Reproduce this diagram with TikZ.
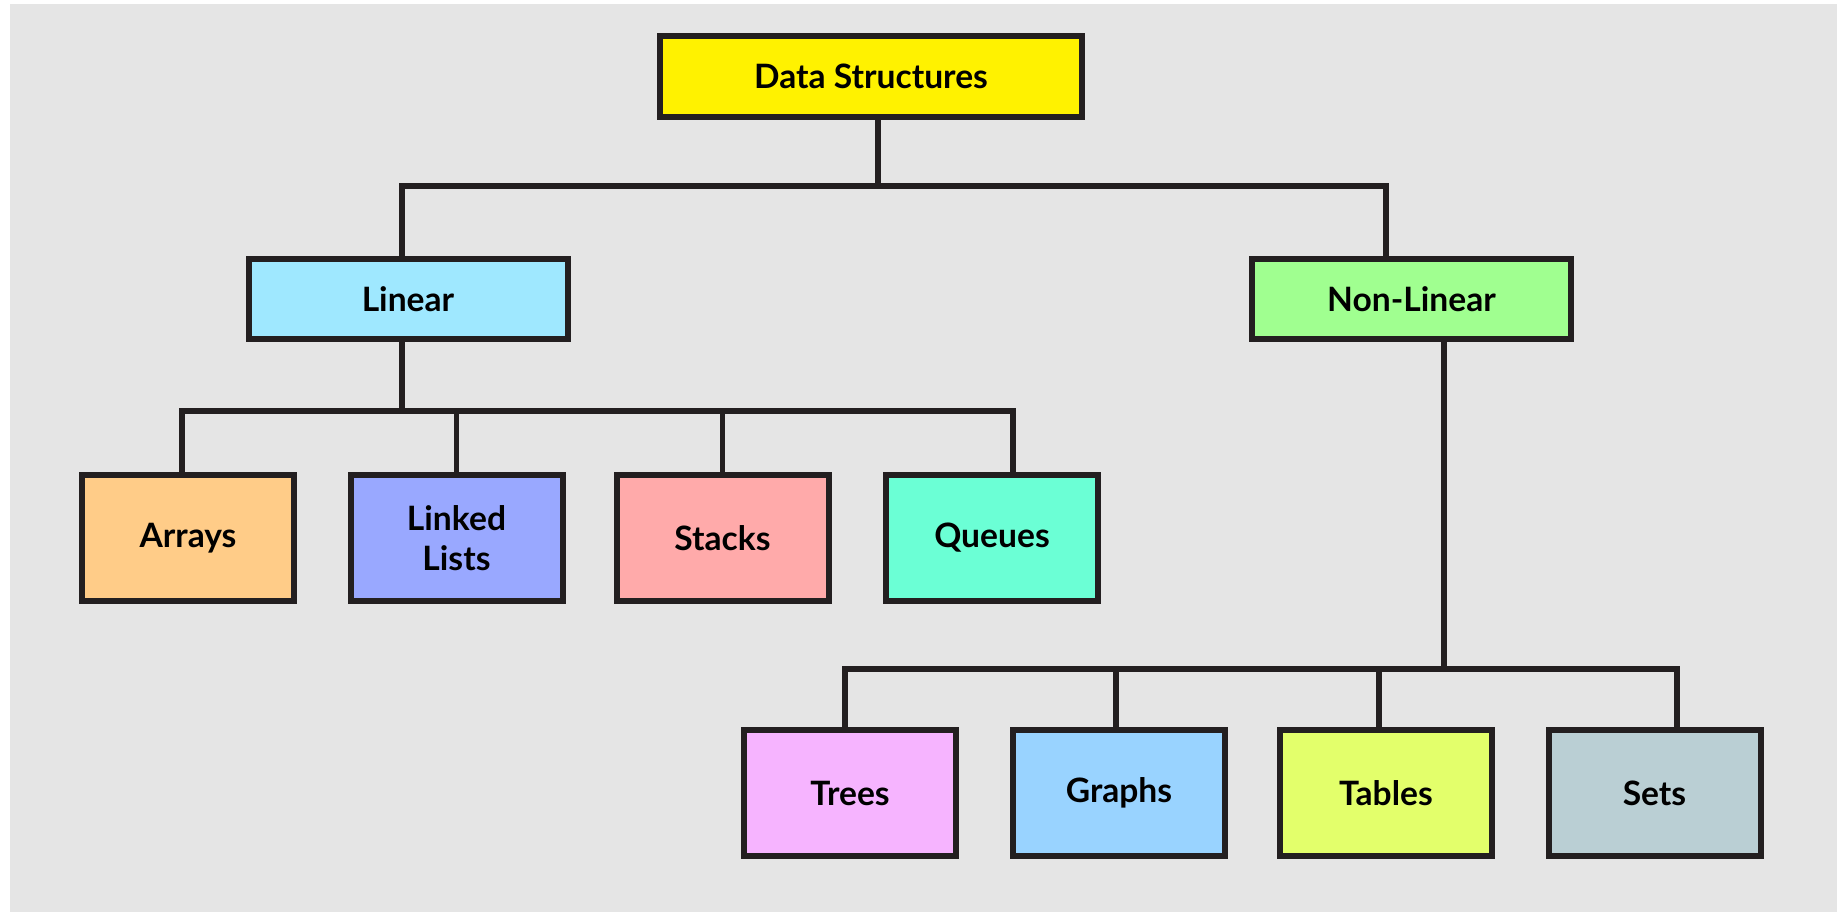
\documentclass[tikz,border=0pt]{standalone}
\usepackage{fontspec}
\setmainfont{Lato}
\usepackage{xcolor}
\usepackage{tikz}

\definecolor{bggrey}{HTML}{E5E5E5}
\definecolor{ink}{HTML}{231F20}
\definecolor{dsyellow}{HTML}{FFF200}
\definecolor{lincyan}{HTML}{9FE8FF}
\definecolor{nlgreen}{HTML}{A0FF90}
\definecolor{arrorange}{HTML}{FFCC88}
\definecolor{llblue}{HTML}{99A8FF}
\definecolor{stkred}{HTML}{FFAAAA}
\definecolor{quemint}{HTML}{6BFFD5}
\definecolor{treepink}{HTML}{F6B4FF}
\definecolor{graphblue}{HTML}{99D3FF}
\definecolor{tabyellow}{HTML}{E3FF6B}
\definecolor{setgrey}{HTML}{BACFD4}

\begin{document}
\begin{tikzpicture}[x=0.5pt, y=-0.5pt,
    box/.style={draw=ink, line width=3pt, rectangle, align=center,
      font=\fontsize{16.8pt}{20pt}\selectfont\bfseries, text=black},
    top/.style={box, minimum width=211pt, minimum height=40.5pt},
    mid/.style={box, minimum width=159.5pt, minimum height=40pt},
    leaf/.style={box, minimum width=106pt, minimum height=63pt},
    conn/.style={draw=ink, line width=2.8pt}]
  \useasboundingbox (0,0) rectangle (1837,912);
  \fill[white] (0,0) rectangle (1837,912);
  \fill[bggrey] (10,4) rectangle (1837,912);

  % root and the two kinds
  \node (ds) at (871,76.5) [top, fill=dsyellow] {Data Structures};
  \node (lin) at (408,299) [mid, fill=lincyan] {Linear};
  \node (nonlin) at (1411.5,299) [mid, fill=nlgreen] {Non-Linear};

  % linear ones
  \node (arr) at (188,538) [leaf, fill=arrorange] {Arrays};
  \node (ll) at (456.5,538) [leaf, fill=llblue] {Linked\\Lists};
  \node (stk) at (722.5,538) [leaf, fill=stkred] {Stacks};
  \node (que) at (992,538) [leaf, fill=quemint] {Queues};

  % non-linear ones
  \node (tree) at (850,793) [leaf, fill=treepink] {Trees};
  \node (graph) at (1119,793) [leaf, fill=graphblue] {Graphs};
  \node (tab) at (1386,793) [leaf, fill=tabyellow] {Tables};
  \node (sets) at (1654.5,793) [leaf, fill=setgrey] {Sets};

  % bus lines
  \coordinate (dsbar) at (878,186);
  \coordinate (linbar) at (402,411);
  \coordinate (nlbar) at (1444,669);

  \draw[conn] ([xshift=3.5pt]ds.south) -- (dsbar);
  \draw[conn] ([xshift=-3pt]lin.north) |- (dsbar) -| ([xshift=-12.75pt]nonlin.north);

  \draw[conn] ([xshift=-3pt]lin.south) -- (linbar);
  \draw[conn] ([xshift=-3pt]arr.north) |- (linbar) -| ([xshift=10.5pt]que.north);
  \foreach \n in {ll,stk}
    \draw[conn] (\n.north) -- (\n.north |- linbar);

  \draw[conn] ([xshift=16.25pt]nonlin.south) -- (nlbar);
  \draw[conn] ([xshift=-2.5pt]tree.north) |- (nlbar) -| ([xshift=11.25pt]sets.north);
  \draw[conn] ([xshift=-1.5pt]graph.north) -- ([xshift=-1.5pt]graph.north |- nlbar);
  \draw[conn] ([xshift=-3.5pt]tab.north) -- ([xshift=-3.5pt]tab.north |- nlbar);
\end{tikzpicture}
\end{document}
